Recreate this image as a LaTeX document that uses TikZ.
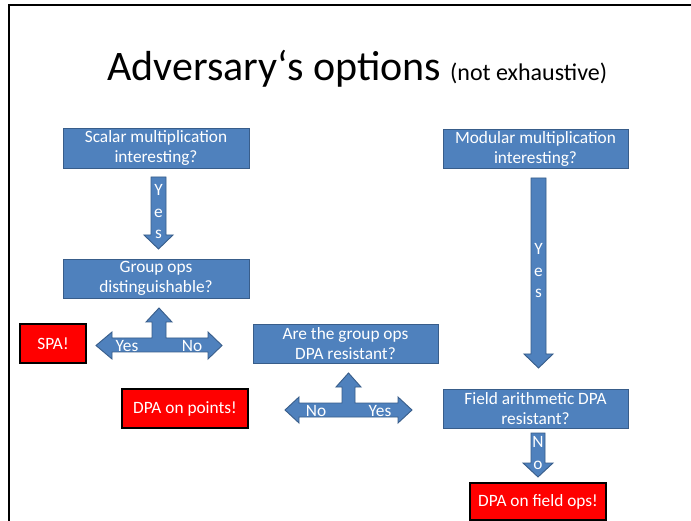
\documentclass[tikz,border=0pt]{standalone}
\usepackage{fontspec}
\setmainfont{Carlito}
\definecolor{boxblue}{HTML}{4F81BD}
\definecolor{boxedge}{HTML}{385D8A}
\definecolor{alertred}{HTML}{FF0000}
\tikzset{
  question/.style={draw=boxedge, line width=0.9pt, fill=boxblue, text=white,
    align=center, inner sep=0pt, font=\fontsize{17.3}{20}\selectfont},
  verdict/.style={draw=black, line width=1.2pt, fill=alertred, text=white,
    align=center, inner sep=0pt, font=\fontsize{17.3}{20}\selectfont},
  blockarrow/.style={draw=boxedge, line width=0.9pt, fill=boxblue},
  arrowlabel/.style={text=white, inner sep=0pt, font=\fontsize{17.3}{20}\selectfont},
  stacklabel/.style={text=white, inner sep=0pt, align=center, font=\fontsize{17.3}{21.5}\selectfont}
}
\begin{document}
\begin{tikzpicture}[x=1pt,y=-1pt]
\useasboundingbox (0,0) rectangle (691,521);
\fill[white] (0,0) rectangle (691,521);
% slide frame (top and left edges)
\draw[line width=2pt] (9,521) -- (9,5) -- (691,5);

% title
\node[anchor=base west, inner sep=0pt] (title) at (107,81)
  {\fontsize{42}{48}\selectfont Adversary‘s options\hspace{9pt}\fontsize{24}{28}\selectfont(not exhaustive)};

% question boxes
\node[question, minimum width=186pt, minimum height=40pt] (scalar) at (156,148)
  {Scalar multiplication\\interesting?};
\node[question, minimum width=186pt, minimum height=39pt] (group) at (156,278.5)
  {Group ops\\distinguishable?};
\node[question, minimum width=185pt, minimum height=39pt] (resist) at (345.5,343.5)
  {Are the group ops\\DPA resistant?};
\node[question, minimum width=185pt, minimum height=39pt] (modular) at (535.5,148.5)
  {Modular multiplication\\interesting?};
\node[question, minimum width=185pt, minimum height=39pt] (field) at (535.5,408.5)
  {Field arithmetic DPA\\resistant?};

% outcome boxes
\node[verdict, minimum width=66pt, minimum height=39pt] (spa) at (53,343.5) {SPA!};
\node[verdict, minimum width=126pt, minimum height=39pt] (points) at (185,408.5) {DPA on points!};
\node[verdict, minimum width=136pt, minimum height=37pt] (fieldops) at (538,501.5) {DPA on field ops!};

% down arrow: scalar -> group
\draw[blockarrow] (151,177) -- (166,177) -- (166,235) -- (173,235) -- (158.5,249)
  -- (144,235) -- (151,235) -- cycle;
\node[stacklabel] (yes1) at (158.5,212) {Y\\e\\s};

% long down arrow: modular -> field
\draw[blockarrow] (531,178) -- (546,178) -- (546,354) -- (553,354) -- (538.5,368)
  -- (524,354) -- (531,354) -- cycle;
\node[stacklabel] (yes2) at (538.5,271) {Y\\e\\s};

% short down arrow: field -> DPA on field ops
\draw[blockarrow] (531,433) -- (545,433) -- (545,463) -- (553,463) -- (538,477)
  -- (523,463) -- (531,463) -- cycle;
\node[stacklabel] (no3) at (538,453) {N\\o};

% T-shaped arrow below "Group ops distinguishable?"
\draw[blockarrow] (159,308) -- (172,322) -- (166,322) -- (166,338) -- (208,338)
  -- (208,332) -- (222,345.5) -- (208,359) -- (208,352) -- (112,352) -- (112,359)
  -- (96,345.5) -- (112,332) -- (112,338) -- (152,338) -- (152,322) -- (146,322) -- cycle;
\node[arrowlabel] (yes3) at (127,346) {Yes};
\node[arrowlabel] (no1) at (192,346) {No};

% T-shaped arrow below "Are the group ops DPA resistant?"
\draw[blockarrow] (348.5,373) -- (361,387) -- (355,387) -- (355,403) -- (398,403)
  -- (398,397) -- (412,410) -- (398,423) -- (398,417) -- (299,417) -- (299,423)
  -- (285,410) -- (299,397) -- (299,403) -- (342,403) -- (342,387) -- (336,387) -- cycle;
\node[arrowlabel] (no2) at (316,411) {No};
\node[arrowlabel] (yes4) at (380,411) {Yes};
\end{tikzpicture}
\end{document}
